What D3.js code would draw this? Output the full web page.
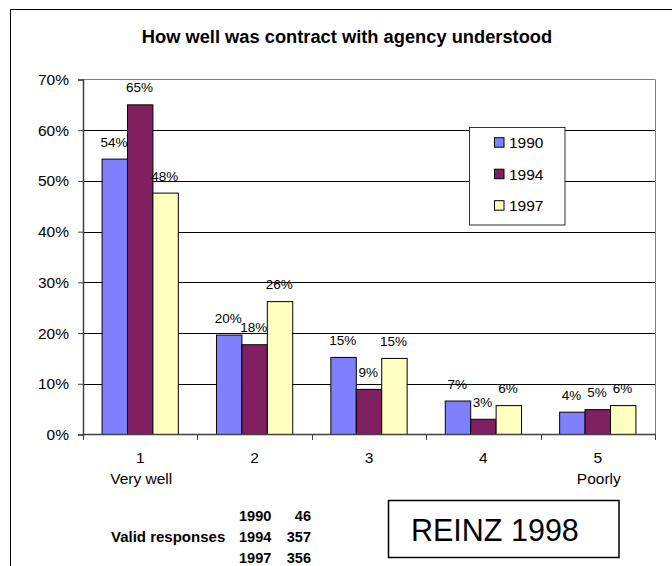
<!DOCTYPE html>
<html>
<head>
<meta charset="utf-8">
<script src="https://cdn.jsdelivr.net/npm/d3@7"></script>
<style>
  html, body { margin: 0; padding: 0; background: #fff; }
  svg { display: block; font-family: "Liberation Sans", Arial, sans-serif; }
</style>
</head>
<body>
<svg id="chart" width="672" height="566"></svg>
<script>
// ---- data ----
const categories = ["1", "2", "3", "4", "5"];
const categorySubLabels = ["Very well", "", "", "", "Poorly"];
const seriesNames = ["1990", "1994", "1997"];
const values1990 = [0.543, 0.196, 0.152, 0.066, 0.044];
const values1994 = [0.650, 0.177, 0.089, 0.030, 0.049];
const values1997 = [0.476, 0.262, 0.150, 0.057, 0.057];
const yTicks = [0, 0.1, 0.2, 0.3, 0.4, 0.5, 0.6, 0.7];
const responseYears = ["1990", "1994", "1997"];
const responseCounts = [46, 357, 356];
const titleText = "How well was contract with agency understood";
const sourceText = "REINZ 1998";

const seriesValues = [values1990, values1994, values1997];
const colors = ["#8080FF", "#802060", "#FFFFC0"];

const svg = d3.select("#chart");

// outer frame (top and left edges visible)
svg.append("line").attr("x1", 10.5).attr("y1", 9.5).attr("x2", 672).attr("y2", 9.5)
  .attr("stroke", "#000").attr("stroke-width", 1);
svg.append("line").attr("x1", 10.5).attr("y1", 9.5).attr("x2", 10.5).attr("y2", 566)
  .attr("stroke", "#000").attr("stroke-width", 1);

// title
svg.append("text").attr("x", 347).attr("y", 43).attr("text-anchor", "middle")
  .attr("font-size", 18.3).attr("font-weight", "bold").attr("fill", "#000").text(titleText);

const pLeft = 83, pRight = 655, pTop = 79.5, pBottom = 434.5;

const x0 = d3.scaleBand().domain(categories).range([pLeft, pRight]).paddingInner(0).paddingOuter(0);
const x1 = d3.scaleBand().domain(seriesNames).range([0, x0.bandwidth()]).paddingInner(0).paddingOuter(0.75);
const y = d3.scaleLinear().domain([0, 0.7]).range([pBottom, pTop]);

// gridlines
svg.append("g").selectAll("line").data(yTicks.filter(t => t > 0 && t < 0.7)).join("line")
  .attr("x1", pLeft).attr("x2", pRight)
  .attr("y1", d => Math.round(y(d)) + 0.5).attr("y2", d => Math.round(y(d)) + 0.5)
  .attr("stroke", "#000").attr("stroke-width", 1);

// plot border top/right
svg.append("path")
  .attr("d", `M${pLeft},${pTop}H${pRight + 0.5}V${pBottom}`)
  .attr("fill", "none").attr("stroke", "#808080").attr("stroke-width", 1);

// y axis
const yAxis = d3.axisLeft(y).tickValues(yTicks).tickFormat(d3.format(".0%")).tickSizeOuter(0).tickSize(5).tickPadding(9);
const gy = svg.append("g").attr("transform", `translate(${pLeft},0)`).call(yAxis);
gy.select(".domain").attr("stroke", "#404040").attr("stroke-width", 1.5);
gy.selectAll(".tick line").attr("stroke", "#404040");
gy.selectAll(".tick text").attr("font-size", 15.5).attr("fill", "#000")
  .attr("font-family", "Liberation Sans, Arial, sans-serif");

// bars
const groups = svg.append("g").selectAll("g").data(categories).join("g")
  .attr("transform", d => `translate(${x0(d)},0)`);

groups.each(function(cat, ci) {
  const g = d3.select(this);
  seriesNames.forEach((s, si) => {
    const v = seriesValues[si][ci];
    g.append("rect")
      .attr("x", x1(s)).attr("y", y(v))
      .attr("width", x1.bandwidth()).attr("height", y(0) - y(v))
      .attr("fill", colors[si]).attr("stroke", "#000").attr("stroke-width", 1);
    g.append("text")
      .attr("x", x1(s) + x1.bandwidth() / 2 - 0.8).attr("y", y(v) - 12.5)
      .attr("text-anchor", "middle").attr("font-size", 13.5).attr("fill", "#000")
      .text(d3.format(".0%")(v));
  });
});

// x axis
svg.append("line").attr("x1", pLeft - 0.5).attr("x2", pRight + 1).attr("y1", pBottom).attr("y2", pBottom)
  .attr("stroke", "#404040").attr("stroke-width", 1.5);
const boundaries = categories.map(c => x0(c)).concat([pRight]);
svg.append("g").selectAll("line").data(boundaries).join("line")
  .attr("x1", d => Math.round(d) + 0.5).attr("x2", d => Math.round(d) + 0.5)
  .attr("y1", pBottom).attr("y2", pBottom + 5.5)
  .attr("stroke", "#404040").attr("stroke-width", 1);

// category labels
svg.append("g").selectAll("text").data(categories).join("text")
  .attr("x", d => x0(d) + x0.bandwidth() / 2).attr("y", 463)
  .attr("text-anchor", "middle").attr("font-size", 15.5).attr("fill", "#000").text(d => d);
svg.append("g").selectAll("text").data(categories).join("text")
  .attr("x", d => x0(d) + x0.bandwidth() / 2 + 1).attr("y", 483.5)
  .attr("text-anchor", "middle").attr("font-size", 15.5).attr("fill", "#000")
  .text((d, i) => categorySubLabels[i]);

// legend
const legend = svg.append("g");
legend.append("rect").attr("x", 469.5).attr("y", 127.5).attr("width", 95.5).attr("height", 97.5)
  .attr("fill", "#fff").attr("stroke", "#333").attr("stroke-width", 1);
const legendY = d3.scalePoint().domain(seriesNames).range([142.7, 205.7]);
seriesNames.forEach((s, i) => {
  legend.append("rect").attr("x", 494.5).attr("y", legendY(s) - 5).attr("width", 9.5).attr("height", 9.5)
    .attr("fill", colors[i]).attr("stroke", "#000").attr("stroke-width", 1);
  legend.append("text").attr("x", 509).attr("y", legendY(s) + 5.5)
    .attr("font-size", 15.5).attr("fill", "#000").text(s);
});

// valid responses block
svg.append("text").attr("x", 111).attr("y", 542).attr("font-size", 15).attr("font-weight", "bold")
  .text("Valid responses");
const rowY = d3.scalePoint().domain(responseYears).range([520.5, 563]);
responseYears.forEach((yr, i) => {
  svg.append("text").attr("x", 239).attr("y", rowY(yr)).attr("font-size", 14.5).attr("font-weight", "bold").text(yr);
  svg.append("text").attr("x", 311).attr("y", rowY(yr)).attr("text-anchor", "end")
    .attr("font-size", 14.5).attr("font-weight", "bold").text(responseCounts[i]);
});

// source box
svg.append("rect").attr("x", 388.5).attr("y", 500.5).attr("width", 230.5).attr("height", 57)
  .attr("fill", "#fff").attr("stroke", "#000").attr("stroke-width", 1.5);
svg.append("text").attr("x", 411).attr("y", 541).attr("font-size", 30.5).attr("fill", "#000").text(sourceText);
</script>
</body>
</html>
